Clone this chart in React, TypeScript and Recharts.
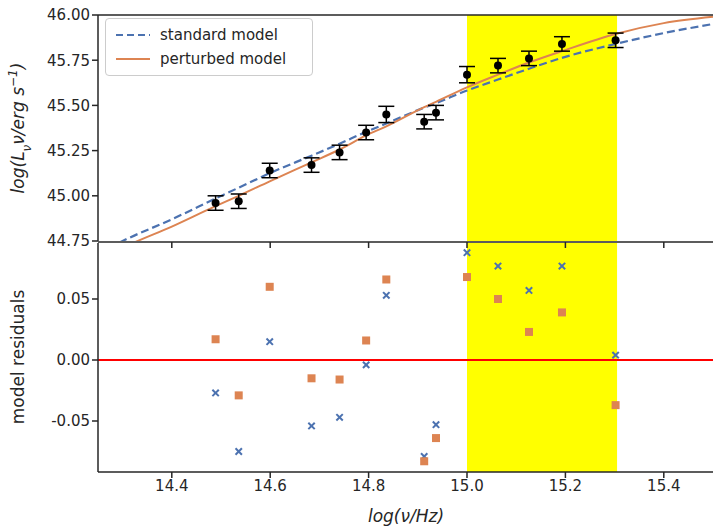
import React from "react";
import {
  ComposedChart,
  Line,
  Scatter,
  XAxis,
  YAxis,
  ErrorBar,
  ReferenceArea,
  ReferenceLine,
} from "recharts";

const obsX = [14.489, 14.536, 14.599, 14.684, 14.741, 14.795, 14.836, 14.913, 14.937, 15.0, 15.063, 15.126, 15.193, 15.302];
const obsY = [44.96, 44.97, 45.14, 45.17, 45.24, 45.35, 45.45, 45.41, 45.46, 45.67, 45.72, 45.76, 45.84, 45.86];
const obsErr = [0.04, 0.04, 0.04, 0.04, 0.04, 0.04, 0.045, 0.04, 0.04, 0.045, 0.04, 0.04, 0.04, 0.04];

const modelX = [14.25, 14.3, 14.4, 14.489, 14.536, 14.599, 14.684, 14.741, 14.795, 14.836, 14.913, 14.937, 15.0, 15.063, 15.126, 15.193, 15.302, 15.4, 15.5];
const standardY = [44.68, 44.75, 44.87, 44.985, 45.045, 45.125, 45.222, 45.288, 45.354, 45.4, 45.488, 45.513, 45.582, 45.643, 45.703, 45.763, 45.84, 45.9, 45.95];
const perturbedY = [44.63, 44.71, 44.83, 44.943, 45.0, 45.08, 45.185, 45.256, 45.334, 45.384, 45.49, 45.52, 45.6, 45.67, 45.737, 45.8, 45.895, 45.955, 45.99];

const residStandard = [-0.027, -0.075, 0.015, -0.054, -0.047, -0.004, 0.053, -0.079, -0.053, 0.088, 0.077, 0.057, 0.077, 0.004];
const residPerturbed = [0.017, -0.029, 0.06, -0.015, -0.016, 0.016, 0.066, -0.083, -0.064, 0.068, 0.05, 0.023, 0.039, -0.037];

const xTicks = [14.4, 14.6, 14.8, 15.0, 15.2, 15.4];
const topTicks = [44.75, 45.0, 45.25, 45.5, 45.75, 46.0];
const bottomTicks = [-0.05, 0.0, 0.05];

const obsData = obsX.map((x, i) => ({ x, y: obsY[i], err: obsErr[i] }));
const modelData = modelX.map((x, i) => ({ x, s: standardY[i], p: perturbedY[i] }));
const residS = obsX.map((x, i) => ({ x, r: residStandard[i] }));
const residP = obsX.map((x, i) => ({ x, r: residPerturbed[i] }));

const FONT = "DejaVu Sans, sans-serif";
const tickStyle = { fontSize: 15, fill: "#262626", fontFamily: FONT };
const axisLine = { stroke: "#262626", strokeWidth: 1.5 };

const Cross = (props: any) => {
  const { cx, cy } = props;
  const d = 3.2;
  return (
    <g stroke="#4c72b0" strokeWidth={2}>
      <line x1={cx - d} y1={cy - d} x2={cx + d} y2={cy + d} />
      <line x1={cx - d} y1={cy + d} x2={cx + d} y2={cy - d} />
    </g>
  );
};
const Square = (props: any) => {
  const { cx, cy } = props;
  return <rect x={cx - 4} y={cy - 4} width={8} height={8} fill="#dd8452" />;
};
const Dot = (props: any) => <circle cx={props.cx} cy={props.cy} r={4} fill="black" />;

const LegendBox = () => (
  <div
    style={{
      position: "absolute",
      left: 105,
      top: 18,
      width: 186,
      zIndex: 3,
      border: "1px solid #ccc",
      borderRadius: 4,
      background: "rgba(255,255,255,0.8)",
      padding: "4px 10px",
      fontFamily: FONT,
      fontSize: 15,
      color: "#262626",
      lineHeight: "24px",
    }}
  >
    <div style={{ display: "flex", alignItems: "center" }}>
      <svg width={34} height={10} style={{ marginRight: 10 }}>
        <line x1={0} y1={5} x2={34} y2={5} stroke="#4c72b0" strokeWidth={2} strokeDasharray="7 4" />
      </svg>
      standard model
    </div>
    <div style={{ display: "flex", alignItems: "center" }}>
      <svg width={34} height={10} style={{ marginRight: 10 }}>
        <line x1={0} y1={5} x2={34} y2={5} stroke="#dd8452" strokeWidth={2} />
      </svg>
      perturbed model
    </div>
  </div>
);

export default function App() {
  return (
    <div style={{ position: "absolute", left: 0, top: 0, width: 713, height: 529, background: "white" }}>
      <div style={{ position: "absolute", left: 0, top: 243 }}>
        <ComposedChart width={713} height={286} margin={{ top: 0, right: 0, bottom: 0, left: 0 }}>
          <XAxis
            type="number"
            dataKey="x"
            domain={[14.25, 15.5]}
            allowDataOverflow
            ticks={xTicks}
            tickFormatter={(v: number) => v.toFixed(1)}
            tick={tickStyle}
            tickSize={6}
            axisLine={axisLine}
            tickLine={axisLine}
            height={57}
          />
          <YAxis
            type="number"
            domain={[-0.0918, 0.0959]}
            allowDataOverflow
            ticks={bottomTicks}
            tickFormatter={(v: number) => v.toFixed(2)}
            width={98}
            tick={tickStyle}
            tickSize={6}
            axisLine={axisLine}
            tickLine={axisLine}
          />
          <ReferenceArea x1={15.0} x2={15.305} fill="#ffff00" fillOpacity={1} stroke="none" />
          <ReferenceLine y={0} stroke="#ff0000" strokeWidth={2} />
          <Scatter data={residS} dataKey="r" shape={Cross} isAnimationActive={false} />
          <Scatter data={residP} dataKey="r" shape={Square} isAnimationActive={false} />
        </ComposedChart>
      </div>
      <div style={{ position: "absolute", left: 0, top: 0, zIndex: 2 }}>
        <ComposedChart width={713} height={255} margin={{ top: 15, right: 0, bottom: 14, left: 0 }}>
          <XAxis type="number" dataKey="x" domain={[14.25, 15.5]} allowDataOverflow ticks={xTicks} hide />
          <YAxis
            type="number"
            domain={[44.75, 46.0]}
            allowDataOverflow
            ticks={topTicks}
            interval={0}
            tickFormatter={(v: number) => v.toFixed(2)}
            width={98}
            tick={tickStyle}
            tickSize={6}
            axisLine={axisLine}
            tickLine={axisLine}
          />
          <ReferenceArea x1={15.0} x2={15.305} fill="#ffff00" fillOpacity={1} stroke="none" />
          <Line data={modelData} dataKey="s" type="monotone" stroke="#4c72b0" strokeWidth={2.2} strokeDasharray="8 4" dot={false} isAnimationActive={false} />
          <Line data={modelData} dataKey="p" type="monotone" stroke="#dd8452" strokeWidth={2} dot={false} isAnimationActive={false} />
          <Scatter data={obsData} dataKey="y" shape={Dot} isAnimationActive={false}>
            <ErrorBar dataKey="err" direction="y" stroke="black" strokeWidth={1.5} width={8} />
          </Scatter>
        </ComposedChart>
      </div>
      <LegendBox />
      <svg width={713} height={529} style={{ position: "absolute", left: 0, top: 0, zIndex: 3, pointerEvents: "none" }}>
        <line x1={98} y1={15} x2={713} y2={15} stroke="#262626" strokeWidth={1.5} />
        <line x1={98} y1={242} x2={713} y2={242} stroke="#262626" strokeWidth={1.5} />
        {xTicks.map((t) => {
          const px = 98 + ((t - 14.25) / 1.25) * 615;
          return <line key={t} x1={px} y1={242} x2={px} y2={248} stroke="#262626" strokeWidth={1.5} />;
        })}
        <text
          transform="translate(24,128) rotate(-90)"
          textAnchor="middle"
          fontFamily={FONT}
          fontSize={17}
          fontStyle="italic"
          fill="#262626"
        >
          log(L<tspan baselineShift="sub" fontSize={12}>ν</tspan>ν/erg s<tspan baselineShift="super" fontSize={12}>−1</tspan>)
        </text>
        <text
          transform="translate(24,357) rotate(-90)"
          textAnchor="middle"
          fontFamily={FONT}
          fontSize={17}
          fill="#262626"
        >
          model residuals
        </text>
        <text x={406} y={522} textAnchor="middle" fontFamily={FONT} fontSize={17} fontStyle="italic" fill="#262626">
          log(ν/Hz)
        </text>
      </svg>
    </div>
  );
}
